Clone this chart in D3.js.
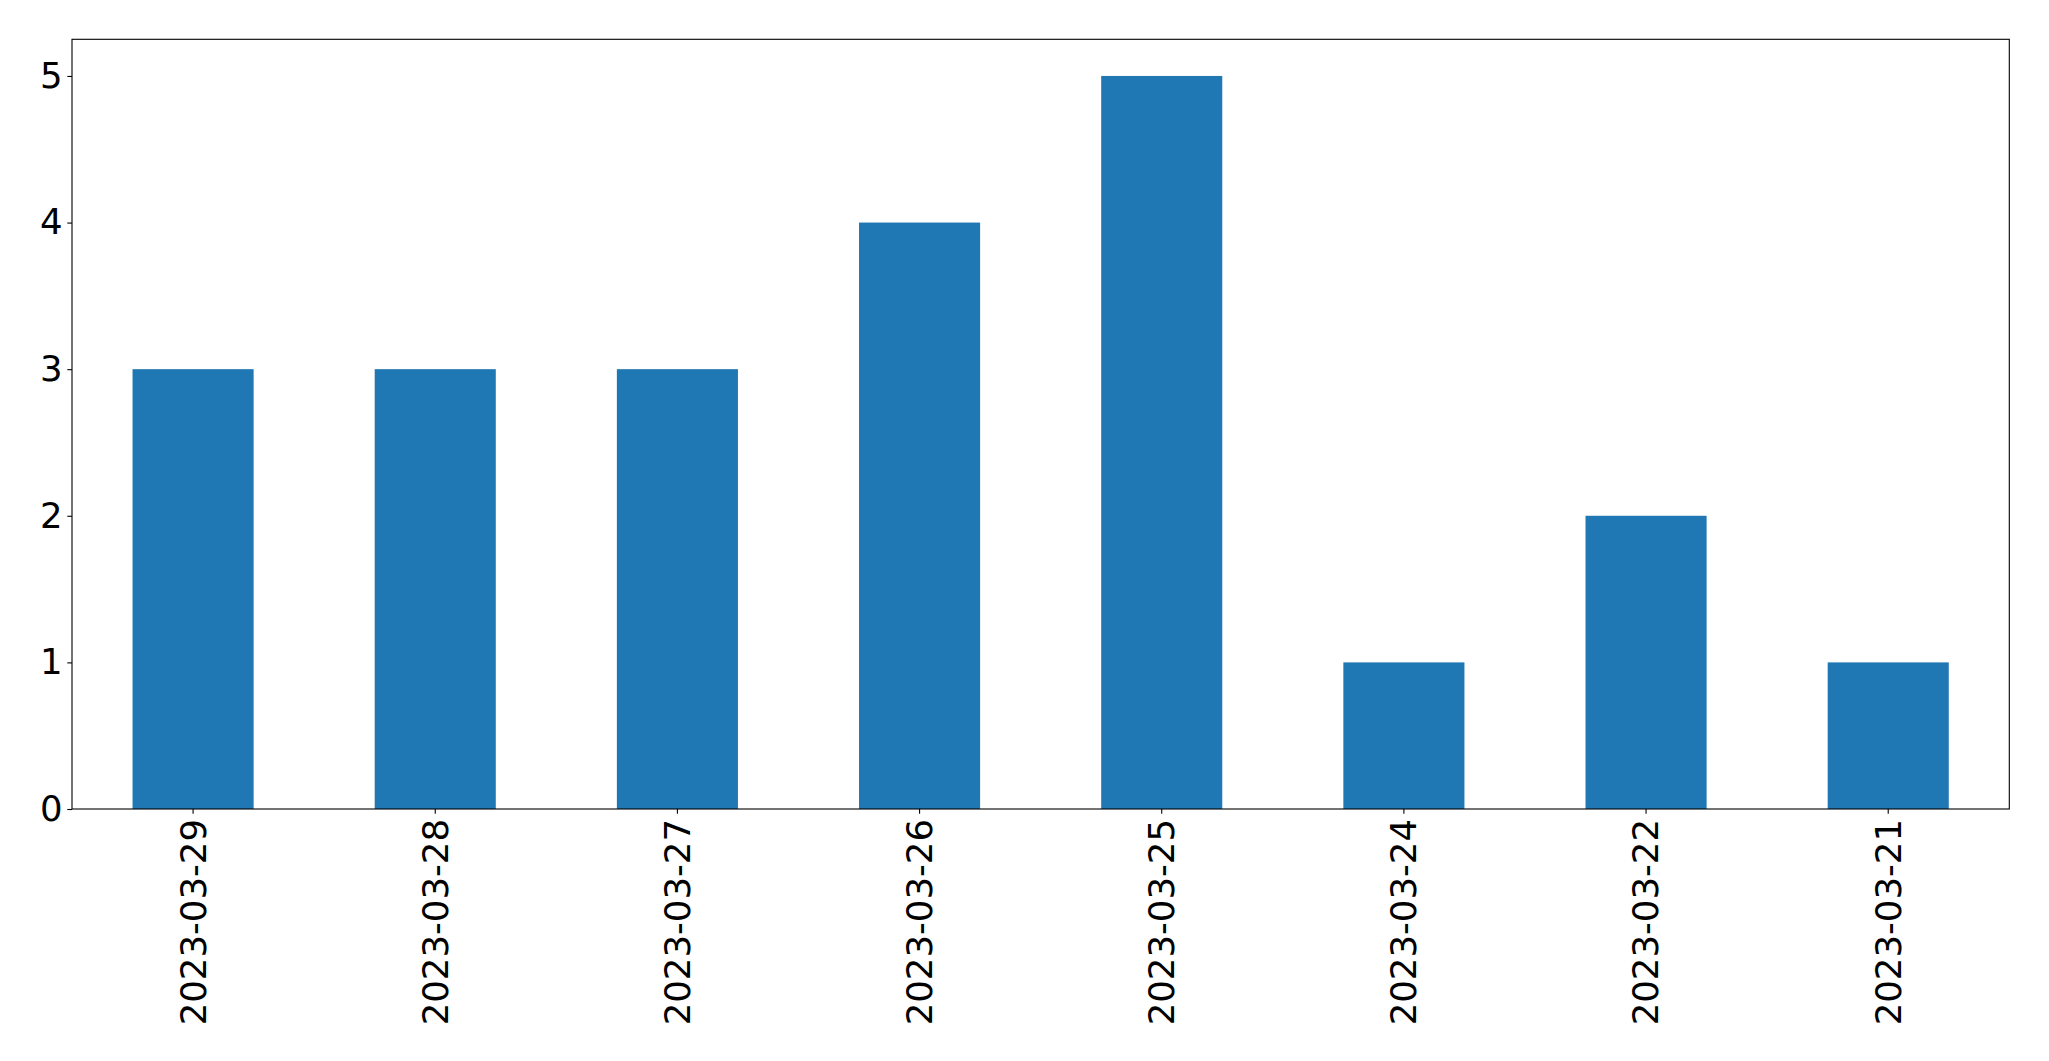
<!DOCTYPE html>
<html><head><meta charset="utf-8">
<script src="https://cdn.jsdelivr.net/npm/d3@7"></script>
<style>body{margin:0;background:#fff}svg{display:block}</style>
</head><body>
<script>
const categories = ["2023-03-29","2023-03-28","2023-03-27","2023-03-26","2023-03-25","2023-03-24","2023-03-22","2023-03-21"];
const values = [3,3,3,4,5,1,2,1];
const yTicks = [0,1,2,3,4,5];

const W = 2049, H = 1061;
const m = {left:72, right:2049-2009.3, top:39.3, bottom:1061-809};
const svg = d3.select("body").append("svg").attr("width",W).attr("height",H);
const iw = W - m.left - m.right, ih = H - m.top - m.bottom;
const g = svg.append("g").attr("transform",`translate(${m.left},${m.top})`);

const x = d3.scaleBand().domain(categories).range([0,iw]).paddingInner(0.5).paddingOuter(0.25);
const y = d3.scaleLinear().domain([0,5.25]).range([ih,0]);

g.selectAll("rect.bar").data(values).join("rect").attr("class","bar")
 .attr("x",(d,i)=>x(categories[i])).attr("width",x.bandwidth())
 .attr("y",d=>y(d)).attr("height",d=>y(0)-y(d)).attr("fill","#1f77b4");

const font = "'DejaVu Sans', sans-serif";
const fs = 35.5;
const ya = g.append("g").call(d3.axisLeft(y).tickValues(yTicks).tickFormat(d3.format("d")).tickSize(4.7).tickPadding(4.7));
ya.select(".domain").remove();
ya.selectAll("text").attr("font-family",font).attr("font-size",fs).attr("fill","#000");
ya.selectAll("line").attr("stroke","#000").attr("stroke-width",1.1);

const xa = g.append("g").attr("transform",`translate(0,${ih})`).call(d3.axisBottom(x).tickSize(4.7).tickPadding(4.7));
xa.select(".domain").remove();
xa.selectAll("line").attr("stroke","#000").attr("stroke-width",1.1);
xa.selectAll("text").attr("font-family",font).attr("font-size",fs).attr("fill","#000")
  .attr("transform","rotate(-90)").attr("text-anchor","end").attr("dy","0.35em").attr("x",-10).attr("y",0);

g.append("rect").attr("x",0).attr("y",0).attr("width",iw).attr("height",ih)
 .attr("fill","none").attr("stroke","#000").attr("stroke-width",1.1);
</script>
</body></html>
